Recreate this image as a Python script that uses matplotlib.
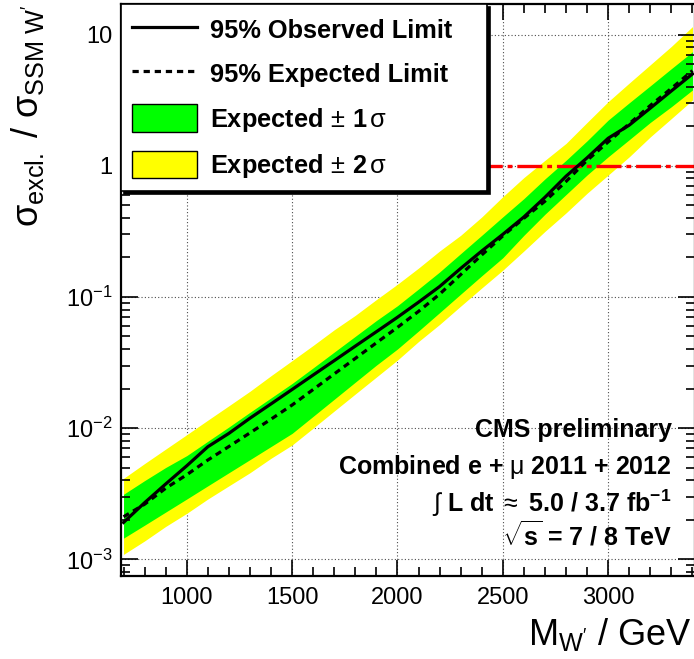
import matplotlib.pyplot as plt
import numpy as np
from matplotlib.lines import Line2D
from matplotlib.patches import Patch
from matplotlib.ticker import FixedLocator, MultipleLocator, LogLocator, FuncFormatter, NullFormatter

# Masse W' (GeV)
masse = [700, 800, 900, 1000, 1100, 1200, 1300, 1400, 1500, 1600, 1700, 1800, 1900, 2000,
         2100, 2200, 2300, 2400, 2500, 2600, 2700, 2800, 2900, 3000, 3100, 3200, 3300, 3400]

# Limite observee
observe = [1.91e-3, 2.70e-3, 3.75e-3, 5.16e-3, 7.21e-3, 9.12e-3, 1.19e-2, 1.53e-2, 1.97e-2,
           2.54e-2, 3.27e-2, 4.22e-2, 5.43e-2, 7.00e-2, 9.12e-2, 0.120, 0.165, 0.224, 0.300,
           0.407, 0.575, 0.832, 1.15, 1.62, 2.04, 2.75, 3.72, 5.01]

# Limite attendue
attendu = [2.11e-3, 2.63e-3, 3.48e-3, 4.41e-3, 5.71e-3, 7.24e-3, 9.20e-3, 1.17e-2, 1.50e-2,
           1.97e-2, 2.59e-2, 3.40e-2, 4.47e-2, 5.86e-2, 7.76e-2, 0.105, 0.148, 0.209, 0.292,
           0.398, 0.537, 0.759, 1.10, 1.52, 2.09, 2.88, 3.89, 5.31]

# Bande +-1 sigma
un_sigma_haut = [3.13e-3, 3.98e-3, 5.01e-3, 6.17e-3, 7.94e-3, 1.02e-2, 1.32e-2, 1.70e-2, 2.19e-2,
                 2.88e-2, 3.80e-2, 5.01e-2, 6.61e-2, 8.57e-2, 0.115, 0.155, 0.214, 0.295, 0.408,
                 0.562, 0.794, 1.10, 1.55, 2.23, 3.02, 4.07, 5.50, 7.40]
un_sigma_bas = [1.45e-3, 1.82e-3, 2.29e-3, 2.88e-3, 3.63e-3, 4.57e-3, 5.75e-3, 7.24e-3, 9.12e-3,
                1.23e-2, 1.66e-2, 2.24e-2, 3.02e-2, 4.01e-2, 5.50e-2, 7.59e-2, 0.105, 0.145, 0.199,
                0.295, 0.427, 0.603, 0.851, 1.17, 1.58, 2.14, 2.82, 3.78]

# Bande +-2 sigma
deux_sigma_haut = [4.14e-3, 5.37e-3, 6.92e-3, 8.91e-3, 1.15e-2, 1.48e-2, 1.91e-2, 2.51e-2, 3.27e-2,
                   4.27e-2, 5.62e-2, 7.24e-2, 9.55e-2, 0.125, 0.166, 0.224, 0.295, 0.407, 0.581,
                   0.813, 1.10, 1.48, 2.14, 3.08, 4.27, 5.89, 8.13, 11.5]
deux_sigma_bas = [1.09e-3, 1.38e-3, 1.78e-3, 2.24e-3, 2.88e-3, 3.63e-3, 4.57e-3, 5.89e-3, 7.43e-3,
                  1.00e-2, 1.35e-2, 1.82e-2, 2.45e-2, 3.30e-2, 4.57e-2, 6.17e-2, 8.51e-2, 0.117, 0.160,
                  0.224, 0.316, 0.437, 0.617, 0.849, 1.17, 1.66, 2.29, 3.17]

ticks_x = [1000, 1500, 2000, 2500, 3000]
decades_y = [1e-3, 1e-2, 1e-1, 1, 10]

plt.rcParams['font.family'] = ['Liberation Sans', 'DejaVu Sans']
plt.rcParams['mathtext.fontset'] = 'custom'
plt.rcParams['mathtext.rm'] = 'Liberation Sans'
plt.rcParams['mathtext.it'] = 'Liberation Sans'
plt.rcParams['mathtext.sf'] = 'Liberation Sans'
plt.rcParams['mathtext.bf'] = 'Liberation Sans:bold'
plt.rcParams['lines.scale_dashes'] = False

fig = plt.figure(figsize=(6.94, 6.59), dpi=100)
ax = fig.add_axes([121 / 694, 1 - 575.7 / 659, 574 / 694, 571.7 / 659])

# Bandes
ax.fill_between(masse, deux_sigma_bas, deux_sigma_haut, color='#ffff00', lw=0, zorder=1)
ax.fill_between(masse, un_sigma_bas, un_sigma_haut, color='#00ff00', lw=0, zorder=1.1)

# Ligne a 1
ax.axhline(1, color='red', lw=2.4, ls=(0, (18, 3.5, 3.5, 3.5)), zorder=2)

# Limites
ax.plot(masse, attendu, color='k', lw=2.3, ls=(0, (4.5, 3.5)), zorder=3)
ax.plot(masse, observe, color='k', lw=2.3, zorder=3)

# Grille pointillee sous les bandes
for v in ticks_x:
    ax.axvline(v, color='0.3', lw=0.8, ls=(0, (0.8, 1.6)), zorder=0.5)
for v in decades_y:
    ax.axhline(v, color='0.3', lw=0.8, ls=(0, (0.8, 1.6)), zorder=0.5)

ax.set_yscale('log')
ax.set_xlim(688, 3412)
ax.set_ylim(7.5e-4, 17.1)

ax.xaxis.set_major_locator(FixedLocator(ticks_x))
ax.xaxis.set_minor_locator(MultipleLocator(100))
ax.yaxis.set_major_locator(LogLocator(base=10))
ax.yaxis.set_minor_locator(LogLocator(base=10, subs=np.arange(2, 10)))
ax.yaxis.set_minor_formatter(NullFormatter())


def format_y(v, pos):
    e = int(round(np.log10(v)))
    if e == 0:
        return '1'
    if e == 1:
        return '10'
    return r'$10^{%d}$' % e


ax.yaxis.set_major_formatter(FuncFormatter(format_y))

ax.tick_params(which='both', direction='in', top=True, right=True, width=1.2, labelsize=17)
ax.xaxis.set_tick_params(which='major', length=11.5, pad=8)
ax.xaxis.set_tick_params(which='minor', length=6.5)
ax.yaxis.set_tick_params(which='major', length=12.5, pad=6)
ax.yaxis.set_tick_params(which='minor', length=6.5)
for s in ax.spines.values():
    s.set_linewidth(1.6)

# Legende
poignees = [Line2D([], [], color='k', lw=2.3),
            Line2D([], [], color='k', lw=2.3, ls=(0, (4.5, 3.5))),
            Patch(facecolor='#00ff00', edgecolor='k', lw=1),
            Patch(facecolor='#ffff00', edgecolor='k', lw=1)]
etiquettes = ['95% Observed Limit', '95% Expected Limit',
              r'Expected$\,\pm\,$1$\,\sigma$', r'Expected$\,\pm\,$2$\,\sigma$']
leg = ax.legend(poignees, etiquettes, loc='upper left', bbox_to_anchor=(0, 0.5, 0.6376, 0.5),
                mode='expand', borderaxespad=0,
                prop=dict(family='Liberation Sans', weight='bold', size=18.3),
                handlelength=2.55, handleheight=1.3, handletextpad=0.5, labelspacing=0.66,
                borderpad=0.45, fancybox=False, edgecolor='k', framealpha=1,
                shadow={'color': 'k', 'alpha': 1})
leg.get_frame().set_linewidth(1.2)
leg.set_zorder(10)

# Textes CMS
xt = 671.7 / 694
props = dict(ha='right', va='baseline', fontsize=18, fontweight='bold')
fig.text(xt, 1 - 436.7 / 659, 'CMS preliminary', **props)
fig.text(xt, 1 - 474.3 / 659, r'Combined e + $\mu$ 2011 + 2012', **props)
fig.text(xt, 1 - 511.7 / 659, r'$\int$ L dt $\approx$ 5.0 / 3.7 fb$^{\mathbf{-1}}$', **props)
fig.text(xt, 1 - 545 / 659, r'$\sqrt{\mathbf{s}}$ = 7 / 8 TeV', **props)

# Titres des axes
fig.text(691.7 / 694, 1 - 645 / 659, r"M$_{\mathrm{W'}}$ / GeV", ha='right', va='baseline', fontsize=26)
fig.text(38 / 694, 1 - 227 / 659, r"$\sigma_{\mathrm{excl.}}$ / $\sigma_{\mathrm{SSM\ W'}}$",
         rotation=90, rotation_mode='anchor', ha='left', va='baseline', fontsize=26)

plt.savefig('out.png', dpi=100)
